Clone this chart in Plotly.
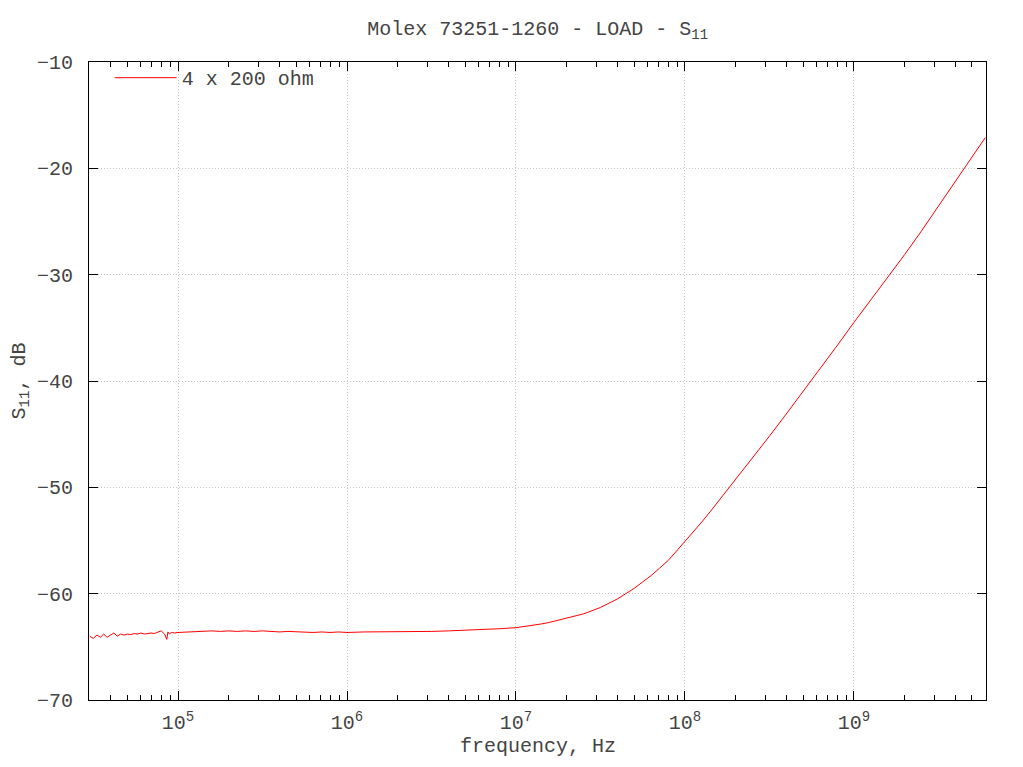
import plotly.graph_objects as go

# ---- data ----
freq_hz = [3.0e4, 3.15e4, 3.31e4, 3.47e4, 3.63e4, 3.80e4, 3.98e4, 4.17e4, 4.37e4, 4.57e4,
           4.79e4, 5.01e4, 5.25e4, 5.50e4, 5.75e4, 6.03e4, 6.31e4, 6.61e4, 6.92e4, 7.24e4,
           7.59e4, 7.94e4, 8.32e4, 8.58e4, 8.71e4, 8.91e4, 9.12e4, 9.55e4, 1.0e5,
           1.12e5, 1.26e5, 1.41e5, 1.58e5, 1.78e5, 2.0e5, 2.24e5, 2.51e5, 2.82e5, 3.16e5,
           3.55e5, 3.98e5, 4.47e5, 5.01e5, 5.62e5, 6.31e5, 7.08e5, 7.94e5, 8.91e5, 1.0e6,
           1.26e6, 1.58e6, 2.0e6, 2.51e6, 3.16e6, 3.98e6, 5.01e6, 6.31e6, 7.94e6, 1.0e7,
           1.12e7, 1.26e7, 1.41e7, 1.58e7, 1.78e7, 2.0e7, 2.24e7, 2.51e7, 2.82e7, 3.16e7,
           3.55e7, 3.98e7, 4.47e7, 5.01e7, 5.62e7, 6.31e7, 7.08e7, 7.94e7, 8.91e7, 1.0e8,
           1.12e8, 1.26e8, 1.41e8, 1.58e8, 1.78e8, 2.0e8, 2.51e8, 3.16e8, 3.98e8, 5.01e8,
           6.31e8, 7.94e8, 1.0e9, 1.26e9, 1.58e9, 2.0e9, 2.51e9, 3.16e9, 3.98e9, 5.01e9, 6.0e9]
s11_db = [-64.0, -64.2, -63.9, -64.1, -63.8, -64.1, -63.9, -63.7, -64.0, -63.8,
          -63.9, -63.8, -63.85, -63.75, -63.8, -63.7, -63.8, -63.75, -63.7, -63.75,
          -63.6, -63.5, -63.8, -64.3, -63.6, -63.8, -63.65, -63.7, -63.65,
          -63.6, -63.6, -63.55, -63.5, -63.55, -63.5, -63.55, -63.5, -63.55, -63.5,
          -63.55, -63.6, -63.55, -63.6, -63.6, -63.65, -63.6, -63.65, -63.6, -63.65,
          -63.6, -63.6, -63.6, -63.55, -63.55, -63.5, -63.45, -63.4, -63.3, -63.2,
          -63.1, -63.0, -62.85, -62.7, -62.5, -62.3, -62.1, -61.9, -61.6, -61.3,
          -60.9, -60.5, -60.0, -59.5, -58.9, -58.3, -57.6, -56.9, -56.0, -55.1,
          -54.2, -53.25, -52.3, -51.3, -50.3, -49.3, -47.3, -45.2, -43.1, -41.0,
          -38.8, -36.7, -34.5, -32.4, -30.25, -28.1, -25.9, -23.6, -21.3, -18.97, -17.1]

x_major = [1e5, 1e6, 1e7, 1e8, 1e9]
x_major_text = ["10<sup>5</sup>", "10<sup>6</sup>", "10<sup>7</sup>",
                "10<sup>8</sup>", "10<sup>9</sup>"]
x_minor = [m * 10 ** e for e in range(4, 10) for m in range(2, 10)]
y_ticks = [-70, -60, -50, -40, -30, -20, -10]
x_title = "frequency, Hz"
y_title = "S<sub>11</sub>, dB"
main_title = "Molex 73251-1260 - LOAD - S<sub>11</sub>"

FONT = "Liberation Mono"
TXT = "#444444"
FS = 20
GRID = "#c4c4c4"

fig = go.Figure()
fig.add_trace(go.Scatter(
    x=freq_hz, y=s11_db, mode="lines", name="4 x 200 ohm",
    line=dict(color="#ff0000", width=1),
))

fig.update_layout(
    width=1007, height=751,
    paper_bgcolor="white", plot_bgcolor="white",
    margin=dict(l=81, r=29, t=54, b=59, autoexpand=False),
    font=dict(family=FONT, size=FS, color=TXT),
    title=dict(text=main_title,
               x=0.526, xanchor="center", y=0.974, yanchor="middle",
               font=dict(family=FONT, size=FS, color=TXT)),
    showlegend=True,
    legend=dict(x=0.023, y=1.006, xanchor="left", yanchor="top",
                itemwidth=62,
                bgcolor="rgba(0,0,0,0)", borderwidth=0,
                font=dict(family=FONT, size=FS, color=TXT)),
    annotations=[dict(text=x_title, xref="paper", yref="paper",
                      x=0.5, y=0, xanchor="center", yanchor="middle",
                      yshift=-46, showarrow=False,
                      font=dict(family=FONT, size=FS, color=TXT))],
)

fig.update_xaxes(
    type="log", range=[4.473, 9.782], automargin=False,
    tickmode="array", tickvals=x_major, ticktext=x_major_text,
    ticks="inside", ticklen=9, tickwidth=1, tickcolor="#000000",
    ticklabelstandoff=4,
    showline=True, linecolor="#000000", linewidth=1, mirror="ticks",
    showgrid=True, gridcolor=GRID, griddash="1px,2px", gridwidth=1,
    zeroline=False,
    minor=dict(tickmode="array", tickvals=x_minor, ticks="inside", ticklen=5,
               tickcolor="#000000", showgrid=False),
    tickfont=dict(family=FONT, size=FS, color=TXT),
)
fig.update_yaxes(
    range=[-70, -10], automargin=False,
    tickmode="array", tickvals=y_ticks,
    ticks="inside", ticklen=9, tickwidth=1, tickcolor="#000000",
    ticklabelstandoff=11,
    showline=True, linecolor="#000000", linewidth=1, mirror="ticks",
    showgrid=True, gridcolor=GRID, griddash="1px,2px", gridwidth=1,
    zeroline=False,
    title=dict(text=y_title, standoff=11,
               font=dict(family=FONT, size=FS, color=TXT)),
    tickfont=dict(family=FONT, size=FS, color=TXT),
)

fig.write_html("out.html")
